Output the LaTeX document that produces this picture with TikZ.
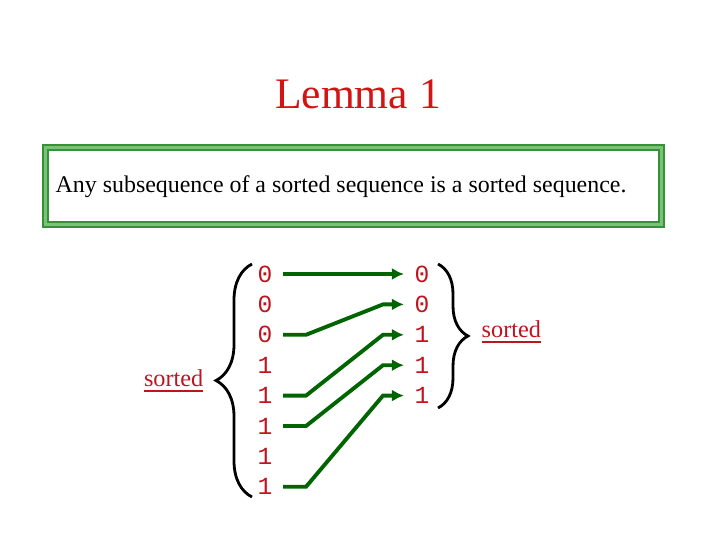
\documentclass[tikz,border=0pt]{standalone}
\usepackage{fontspec}
\setmainfont{Liberation Serif}
\setmonofont{Liberation Mono}
\usepackage[dvipsnames]{xcolor}
\usetikzlibrary{positioning, calc, arrows.meta, decorations.pathreplacing}
\definecolor{lemmared}{RGB}{210,20,20}
\definecolor{digitred}{RGB}{190,20,30}
\definecolor{wiregreen}{RGB}{0,100,0}
\definecolor{boxgreen}{RGB}{55,145,55}
\definecolor{boxlight}{RGB}{120,195,120}

\begin{document}
\begin{tikzpicture}[
    every node/.style={inner sep=1mm},
    bit/.style={font=\fontsize{7}{8}\selectfont\ttfamily, text=digitred, inner sep=1mm},
    wire/.style={wiregreen, line width=1.1pt, -{Latex[length=1.2mm, width=1.2mm]}},
    curly/.style={thick, decorate, decoration={brace, amplitude=#1}},
    tag/.style={font=\fontsize{6.9}{8}\selectfont, text=digitred}
]
\useasboundingbox (0,0) rectangle (7.2,5.4);

\node[text=lemmared, font=\fontsize{12.4}{14}\selectfont, anchor=base] (title) at (3.58,4.31) {Lemma 1};

% statement box
\draw[boxgreen, line width=2pt] (0.455,3.925) rectangle (6.615,3.155);
\draw[boxlight, line width=0.6pt] (0.455,3.925) rectangle (6.615,3.155);
\node[anchor=base west, inner sep=0, font=\fontsize{6.8}{8}\selectfont] (stmt) at (0.55,3.47)
    {Any subsequence of a sorted sequence is a sorted sequence.};

% input column
\foreach \b [count=\i] in {0,0,0,1,1,1,1,1}
    \node[bit] (in\i) at (2.65,{2.66-0.304*(\i-1)}) {\b};

% output column
\foreach \b [count=\i] in {0,0,1,1,1}
    \node[bit] (out\i) at (4.22,{2.66-0.304*(\i-1)}) {\b};

% bend columns
\coordinate (bendL) at (3.06,0);
\coordinate (bendR) at (3.83,0);

\draw[wire] (in1.east) -- (out1.west);
\draw[wire] (in3.east) -- (in3.east -| bendL) -- (out2.west -| bendR) -- (out2.west);
\draw[wire] (in5.east) -- (in5.east -| bendL) -- (out3.west -| bendR) -- (out3.west);
\draw[wire] (in6.east) -- (in6.east -| bendL) -- (out4.west -| bendR) -- (out4.west);
\draw[wire] (in8.east) -- (in8.east -| bendL) -- (out5.west -| bendR) -- (out5.west);

% braces
\coordinate (lbot) at (2.52,0.43);
\coordinate (ltop) at (2.52,2.76);
\draw[curly=3.6mm] (lbot) -- (ltop);
\coordinate (rtop) at (4.38,2.76);
\coordinate (rbot) at (4.38,1.32);
\draw[curly=3mm] (rtop) -- (rbot);

\node[tag, anchor=base east, inner sep=0] (lsorted) at (2.04,1.54) {\underline{sorted}};
\node[tag, anchor=base west, inner sep=0] (rsorted) at (4.81,2.03) {\underline{sorted}};
\end{tikzpicture}
\end{document}
